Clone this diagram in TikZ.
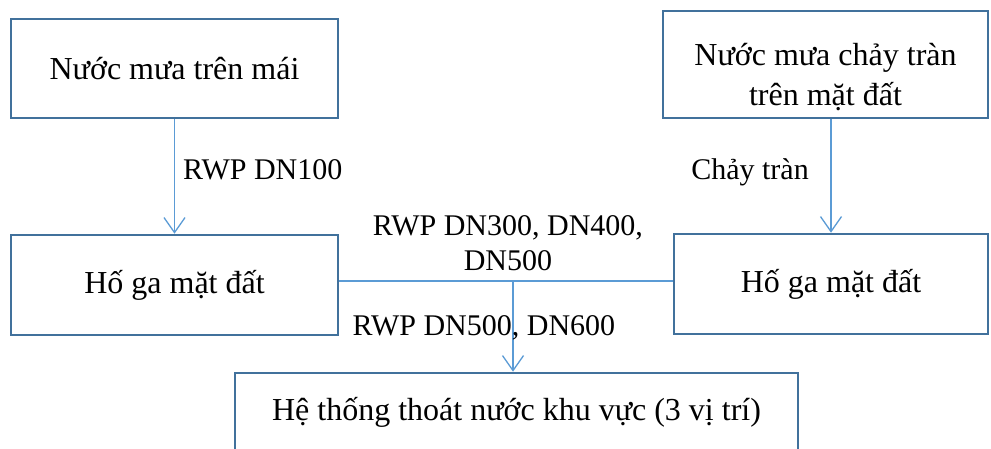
\documentclass[tikz,border=0pt]{standalone}
\usepackage{fontspec}
\setmainfont{Liberation Serif}
\usetikzlibrary{arrows.meta,calc}

\definecolor{boxline}{HTML}{41719C}
\definecolor{pipe}{HTML}{5B9BD5}

\tikzset{
  stage/.style={draw=boxline, line width=2.6pt, rectangle, inner sep=0pt,
    align=center, font=\fontsize{32}{40}\selectfont},
  conn/.style={draw=pipe, line width=1.3pt},
  flow/.style={conn, -{Straight Barb[length=15pt,width=21pt,line width=1.3pt]}},
  tag/.style={inner sep=0pt, align=center, font=\fontsize{30}{35}\selectfont}
}

\begin{document}
\begin{tikzpicture}[x=1pt,y=-1pt]
  \useasboundingbox (0,0) rectangle (991,448);
  \clip (0,0) rectangle (991,448);

  % sources
  \node[stage, minimum width=327pt, minimum height=99pt] (roof) at (174.5,68.5)
    {Nước mưa trên mái};
  \node[stage, minimum width=325pt, minimum height=107pt, text depth=0pt] (runoff) at (825.5,64.5)
    {\raisebox{8pt}{\begin{tabular}{@{}c@{}}Nước mưa chảy tràn\\[0pt]trên mặt đất\end{tabular}}};

  % surface manholes
  \node[stage, minimum width=327pt, minimum height=100pt] (mhL) at (174.5,285)
    {Hố ga mặt đất};
  \node[stage, minimum width=314pt, minimum height=100pt] (mhR) at (831,284)
    {Hố ga mặt đất};

  % receiving network
  \node[stage, minimum width=563pt, minimum height=100pt] (net) at (516.5,423)
    {};
  \node[tag, font=\fontsize{32}{38}\selectfont] (netlabel) at (516.5,412)
    {Hệ thống thoát nước khu vực (3 vị trí)};

  % connectors
  \draw[flow] (roof.south) -- (mhL.north);
  \draw[flow] (runoff.south -| mhR.north) -- (mhR.north);
  \draw[conn] (mhL.east |- 0,281) coordinate (hl) -- (mhR.west |- 0,281) coordinate (hr);
  \coordinate (junc) at (513,281);
  \draw[flow] (junc) -- (junc |- net.north);

  % pipe labels
  \node[tag, anchor=west] (l100) at (183,170) {RWP DN100};
  \node[tag] (lrun) at (750,172) {Chảy tràn};
  \node[tag] (l300) at (508,243) {RWP DN300, DN400,\\DN500};
  \node[tag] (l500) at (484,328) {RWP DN500, DN600};
\end{tikzpicture}
\end{document}
